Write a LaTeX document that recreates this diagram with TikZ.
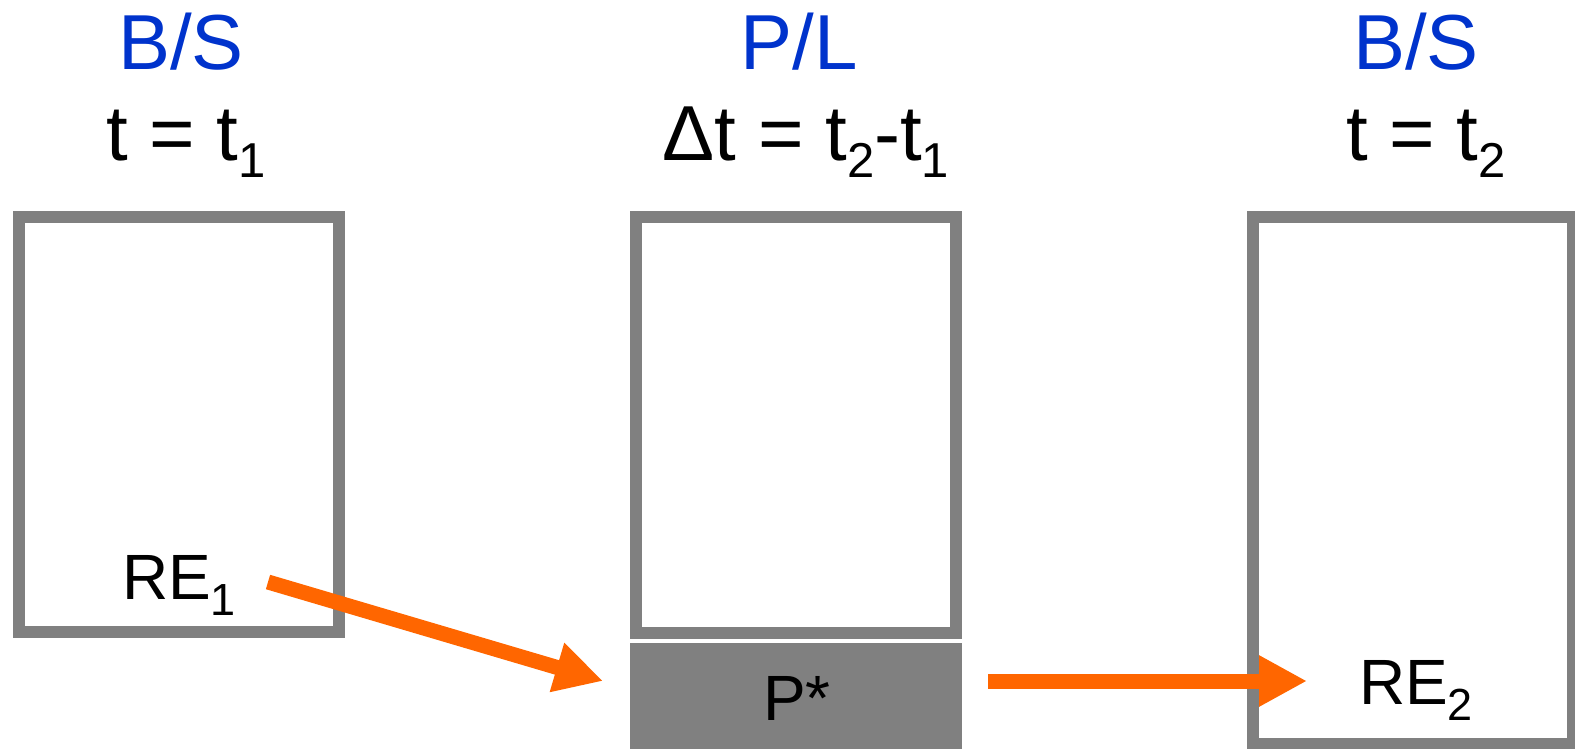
\documentclass[tikz,border=0pt]{standalone}
\usepackage{fontspec}
\setmainfont{Liberation Sans}
\usetikzlibrary{arrows.meta}
\definecolor{bsblue}{RGB}{0,51,204}
\definecolor{arrorange}{RGB}{255,102,0}
\definecolor{boxgray}{RGB}{128,128,128}
\newcommand{\tsub}[1]{\raisebox{-17pt}{\fontsize{49pt}{49pt}\selectfont #1}}
\newcommand{\lsub}[1]{\raisebox{-16pt}{\fontsize{45pt}{45pt}\selectfont #1}}
\begin{document}
\begin{tikzpicture}[x=1pt,y=-1pt,
 title/.style={inner sep=0pt, anchor=base, text=bsblue, font=\fontsize{78pt}{80pt}\selectfont},
 timelbl/.style={inner sep=0pt, anchor=base, font=\fontsize{78pt}{80pt}\selectfont},
 lbl/.style={inner sep=0pt, anchor=base, font=\fontsize{64pt}{66pt}\selectfont},
 sheet/.style={draw=boxgray, line width=12pt, minimum width=320pt, inner sep=0pt},
 flow/.style={draw=arrorange, line width=15pt, -{Triangle[length=48pt,width=48pt]}}]
\useasboundingbox (0,0) rectangle (1575,748);
\node[sheet, minimum height=415pt] (bs1) at (179,424.5) {};
\node[sheet, minimum height=416pt] (pl) at (796,425) {};
\node[sheet, minimum height=527pt] (bs2) at (1413,480.5) {};
\node[fill=boxgray, minimum width=332pt, minimum height=112pt, inner sep=0pt] (pbox) at (796,699) {};
\node[title] (bs1t) at (181,69) {B/S};
\node[timelbl] (t1) at (186,160) {t = t\tsub{1}};
\node[title] (plt) at (799,69) {P/L};
\node[timelbl] (dt) at (806,160) {Δt = t\tsub{2}-t\tsub{1}};
\node[title] (bs2t) at (1416,69) {B/S};
\node[timelbl] (t2) at (1426,160) {t = t\tsub{2}};
\node[lbl] (re1) at (179,599) {RE\lsub{1}};
\node[lbl] (pstar) at (797,720) {P*};
\node[lbl] (re2) at (1416,704) {RE\lsub{2}};
\coordinate (a1s) at (268,582);
\coordinate (a1e) at (603,681);
\coordinate (a2s) at (988,681);
\coordinate (a2e) at (1307,681);
\draw[flow] (a1s) -- (a1e);
\draw[flow] (a2s) -- (a2e);
\end{tikzpicture}
\end{document}
